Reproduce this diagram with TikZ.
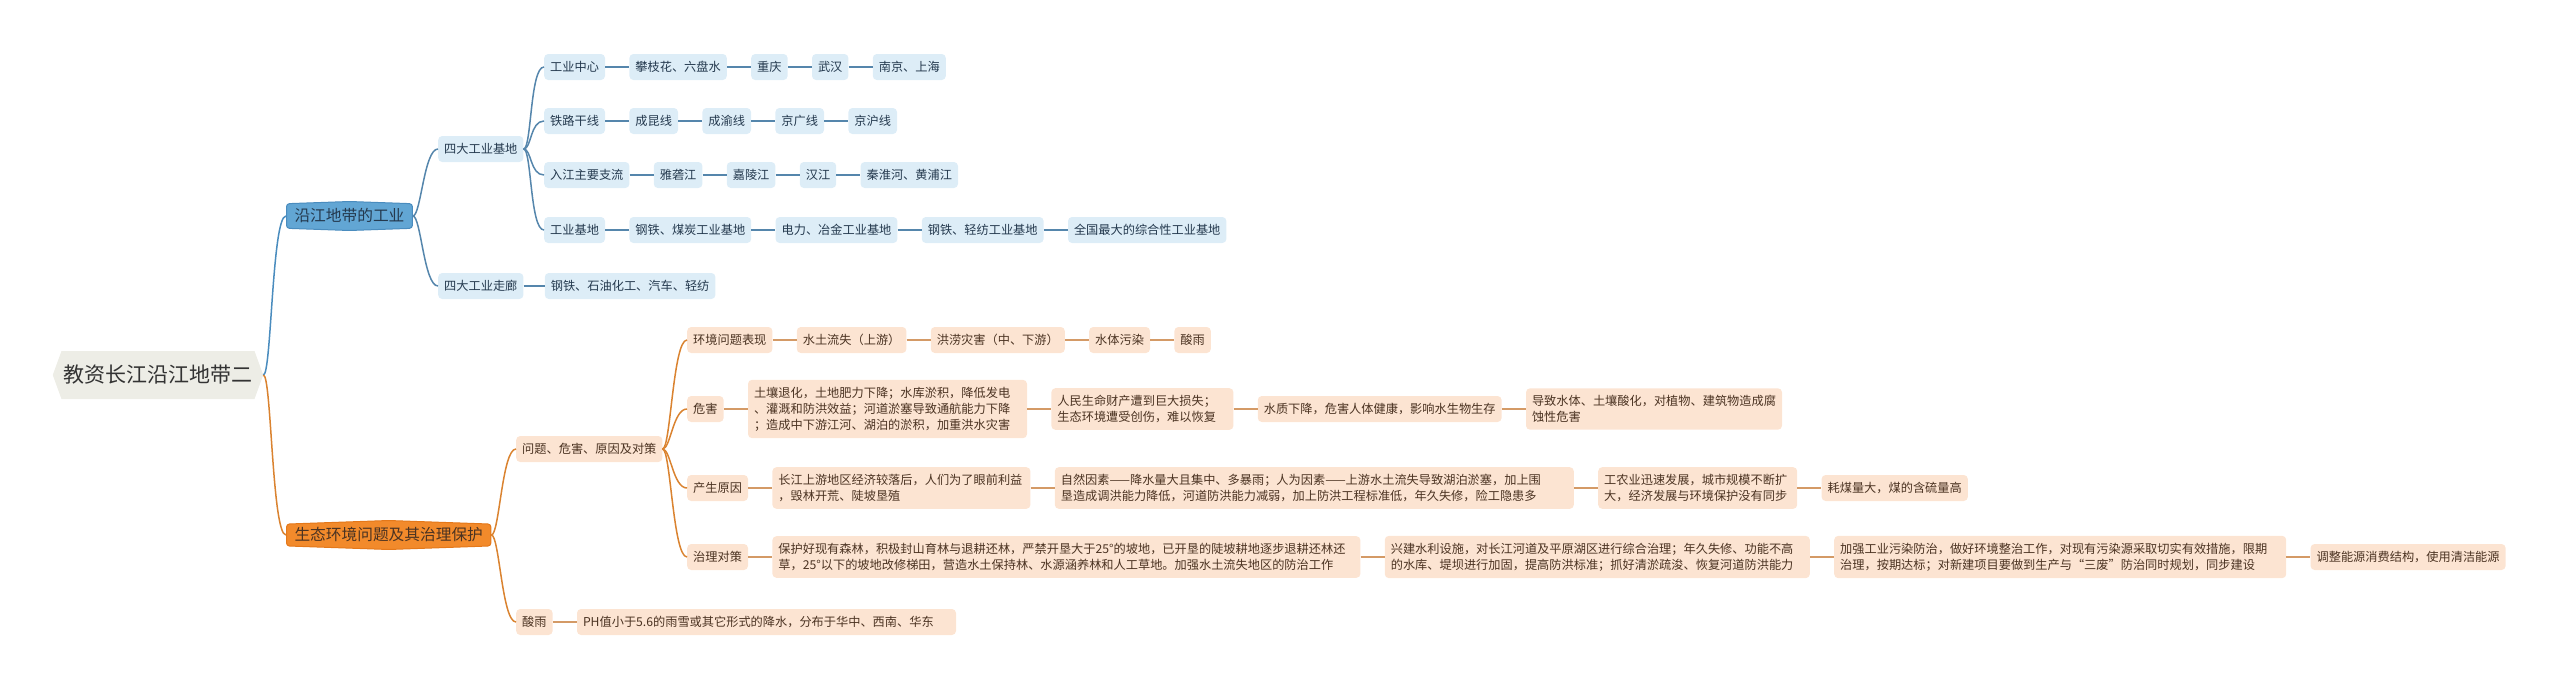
\documentclass[tikz,border=0pt]{standalone}
\usepackage{fontspec}
\setmainfont{Noto Sans CJK SC}
\usepackage{tikz}
\usetikzlibrary{positioning, shapes.symbols}
\definecolor{rootbg}{HTML}{EDEDE6}
\definecolor{bluebr}{HTML}{62A6D4}
\definecolor{bluebd}{HTML}{4A8CBE}
\definecolor{bluelf}{HTML}{DDEDF7}
\definecolor{blueln}{HTML}{5586AC}
\definecolor{bluetx}{HTML}{24394E}
\definecolor{orgbr}{HTML}{F28A2B}
\definecolor{orgbd}{HTML}{E4781A}
\definecolor{orglf}{HTML}{FCE4D2}
\definecolor{orgln}{HTML}{DA8330}
\definecolor{orgch}{HTML}{D49A66}
\definecolor{orgtx}{HTML}{4B3322}

\begin{document}
\begin{tikzpicture}[x=1pt, y=-1pt, node distance=24pt,
                    every node/.style={font=\fontsize{12.2}{16}\selectfont, inner sep=0pt},
                    leaf/.style={rounded corners=4pt, inner xsep=6pt, inner ysep=7pt, minimum height=26pt},
                    bleaf/.style={leaf, fill=bluelf, text=bluetx},
                    oleaf/.style={leaf, fill=orglf, text=orgtx},
                    opara/.style={oleaf, align=left},
                    branch/.style={signal, signal to=north and south, signal pointer angle=176, rounded corners=3pt,
                                   line width=1pt, font=\fontsize{15.7}{19}\selectfont, inner xsep=8pt, minimum height=29pt},
                    link/.style={to path={.. controls +(8,0) and +(-14,0) .. (\tikztotarget)}},
                    bl/.style={draw=blueln, line width=1.5pt},
                    ol/.style={draw=orgln, line width=1.5pt},
                    oc/.style={draw=orgch, line width=1.5pt}]
                    \useasboundingbox (0,0) rectangle (2560,688);
                    \node[signal, signal to=west and east, signal pointer angle=140, fill=rootbg, text=black!80,
                          font=\fontsize{21}{25}\selectfont, inner xsep=2pt, minimum height=48pt](root) at (158,375){教资长江沿江地带二};
                    \node[branch, fill=bluebr, draw=bluebd, text=bluetx, anchor=west](gy) at (286,216){沿江地带的工业};
                    \node[branch, fill=orgbr, draw=orgbd, text=orgtx, anchor=west](st) at (286,535){生态环境问题及其治理保护};
                    \draw[bl, draw=bluebd] (root.east) to[link] (gy.west);
                    \draw[ol] (root.east) to[link] (st.west);

                    \node[bleaf, anchor=west](jd) at (438,149){四大工业基地};
                    \node[bleaf, anchor=west](zl) at (438,286){四大工业走廊};
                    \draw[bl] (gy.east) to[link] (jd.west);
                    \draw[bl] (gy.east) to[link] (zl.west);
                    \node[bleaf, right=21pt of zl](zl1){钢铁、石油化工、汽车、轻纺};
                    \draw[bl] (zl) -- (zl1);

                    \node[bleaf, anchor=west](zx) at (544,67){工业中心};
                    \node[bleaf, right=of zx](zx1){攀枝花、六盘水};
                    \node[bleaf, right=of zx1](zx2){重庆};
                    \node[bleaf, right=of zx2](zx3){武汉};
                    \node[bleaf, right=of zx3](zx4){南京、上海};
                    \draw[bl] (zx) -- (zx1) -- (zx2) -- (zx3) -- (zx4);

                    \node[bleaf, anchor=west](tl) at (544,121){铁路干线};
                    \node[bleaf, right=of tl](tl1){成昆线};
                    \node[bleaf, right=of tl1](tl2){成渝线};
                    \node[bleaf, right=of tl2](tl3){京广线};
                    \node[bleaf, right=of tl3](tl4){京沪线};
                    \draw[bl] (tl) -- (tl1) -- (tl2) -- (tl3) -- (tl4);

                    \node[bleaf, anchor=west](rj) at (544,175){入江主要支流};
                    \node[bleaf, right=of rj](rj1){雅砻江};
                    \node[bleaf, right=of rj1](rj2){嘉陵江};
                    \node[bleaf, right=of rj2](rj3){汉江};
                    \node[bleaf, right=of rj3](rj4){秦淮河、黄浦江};
                    \draw[bl] (rj) -- (rj1) -- (rj2) -- (rj3) -- (rj4);

                    \node[bleaf, anchor=west](gj) at (544,230){工业基地};
                    \node[bleaf, right=of gj](gj1){钢铁、煤炭工业基地};
                    \node[bleaf, right=of gj1](gj2){电力、冶金工业基地};
                    \node[bleaf, right=of gj2](gj3){钢铁、轻纺工业基地};
                    \node[bleaf, right=of gj3](gj4){全国最大的综合性工业基地};
                    \draw[bl] (gj) -- (gj1) -- (gj2) -- (gj3) -- (gj4);
                    \foreach \n in {zx, tl, rj, gj}
                        \draw[bl] (jd.east) to[link] (\n.west);

                    \node[oleaf, anchor=west](wt) at (516,449){问题、危害、原因及对策};
                    \node[oleaf, anchor=west](sy) at (516,622){酸雨};
                    \draw[ol] (st.east) to[link] (wt.west);
                    \draw[ol] (st.east) to[link] (sy.west);
                    \node[opara, right=of sy, text width=367pt](sy1){PH值小于5.6的雨雪或其它形式的降水，分布于华中、西南、华东};
                    \draw[oc] (sy) -- (sy1);

                    \node[oleaf, anchor=west](hj) at (687,340){环境问题表现};
                    \node[oleaf, right=of hj](hj1){水土流失（上游）};
                    \node[oleaf, right=of hj1](hj2){洪涝灾害（中、下游）};
                    \node[oleaf, right=of hj2](hj3){水体污染};
                    \node[oleaf, right=of hj3](hj4){酸雨};
                    \draw[oc] (hj) -- (hj1) -- (hj2) -- (hj3) -- (hj4);

                    \node[oleaf, anchor=west](wh) at (687,409){危害};
                    \node[opara, right=of wh, text width=267pt](wh1){土壤退化，土地肥力下降；水库淤积，降低发电\\、灌溉和防洪效益；河道淤塞导致通航能力下降\\；造成中下游江河、湖泊的淤积，加重洪水灾害};
                    \node[opara, right=of wh1, text width=170pt](wh2){人民生命财产遭到巨大损失；\\生态环境遭受创伤，难以恢复};
                    \node[oleaf, right=of wh2](wh3){水质下降，危害人体健康，影响水生物生存};
                    \node[opara, right=of wh3, text width=244pt](wh4){导致水体、土壤酸化，对植物、建筑物造成腐\\蚀性危害};
                    \draw[oc] (wh) -- (wh1) -- (wh2) -- (wh3) -- (wh4);

                    \node[oleaf, anchor=west](yy) at (687,488){产生原因};
                    \node[opara, right=of yy, text width=246pt](yy1){长江上游地区经济较落后，人们为了眼前利益\\，毁林开荒、陡坡垦殖};
                    \node[opara, right=of yy1, text width=507pt](yy2){自然因素——降水量大且集中、多暴雨；人为因素——上游水土流失导致湖泊淤塞，加上围\\垦造成调洪能力降低，河道防洪能力减弱，加上防洪工程标准低，年久失修，险工隐患多};
                    \node[opara, right=of yy2, text width=187pt](yy3){工农业迅速发展，城市规模不断扩\\大，经济发展与环境保护没有同步};
                    \node[oleaf, right=of yy3](yy4){耗煤量大，煤的含硫量高};
                    \draw[oc] (yy) -- (yy1) -- (yy2) -- (yy3) -- (yy4);

                    \node[oleaf, anchor=west](dc) at (687,557){治理对策};
                    \node[opara, right=of dc, text width=576pt](dc1){保护好现有森林，积极封山育林与退耕还林，严禁开垦大于25°的坡地，已开垦的陡坡耕地逐步退耕还林还\\草，25°以下的坡地改修梯田，营造水土保持林、水源涵养林和人工草地。加强水土流失地区的防治工作};
                    \node[opara, right=of dc1, text width=413pt](dc2){兴建水利设施，对长江河道及平原湖区进行综合治理；年久失修、功能不高\\的水库、堤坝进行加固，提高防洪标准；抓好清淤疏浚、恢复河道防洪能力};
                    \node[opara, right=of dc2, text width=440pt](dc3){加强工业污染防治，做好环境整治工作，对现有污染源采取切实有效措施，限期\\治理，按期达标；对新建项目要做到生产与“三废”防治同时规划，同步建设};
                    \node[oleaf, right=of dc3](dc4){调整能源消费结构，使用清洁能源};
                    \draw[oc] (dc) -- (dc1) -- (dc2) -- (dc3) -- (dc4);
                    \foreach \n in {hj, wh, yy, dc}
                        \draw[ol] (wt.east) to[link] (\n.west);
                \end{tikzpicture}
\end{document}
